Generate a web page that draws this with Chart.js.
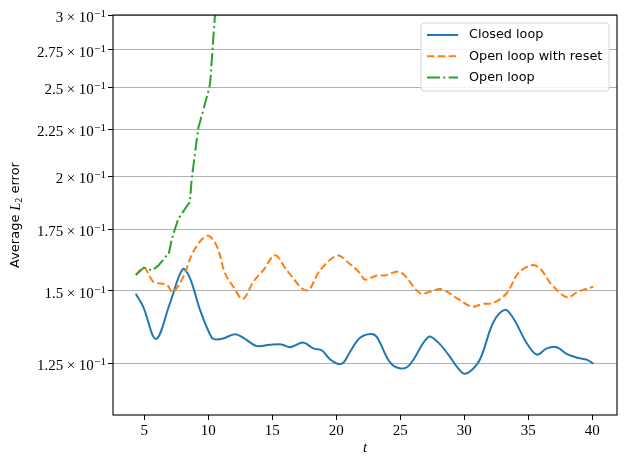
<!DOCTYPE html>
<html>
<head>
<meta charset="utf-8">
<script src="https://cdn.jsdelivr.net/npm/chart.js@4/dist/chart.umd.min.js"></script>
<style>
  html, body { margin: 0; padding: 0; background: #fff; }
  #wrap { width: 627px; height: 467px; position: relative; }
</style>
</head>
<body>
<div id="wrap"><canvas id="errChart"></canvas></div>
<script>
// values
const tClosed = [4.33, 4.92, 5.91, 7.0, 8.0, 8.57, 9.35, 10.27, 10.66, 11.17, 12.09, 12.74, 13.78, 14.82, 15.73, 16.38, 17.42, 18.2, 18.86, 19.5, 20.08, 20.55, 21.07, 21.85, 22.69, 23.16, 24.2, 25.03, 25.76, 27.19, 27.97, 28.75, 29.87, 30.45, 31.23, 32.27, 33.18, 33.83, 34.88, 35.66, 36.44, 37.22, 38.0, 38.9, 39.56, 40.1];
const errClosed = [0.1489, 0.144, 0.1329, 0.1454, 0.1584, 0.1548, 0.143, 0.1333, 0.1327, 0.1331, 0.1345, 0.1333, 0.1306, 0.131, 0.1311, 0.1302, 0.1317, 0.1298, 0.1292, 0.1263, 0.1249, 0.1252, 0.1287, 0.1333, 0.1346, 0.1336, 0.1253, 0.1234, 0.1247, 0.1336, 0.1317, 0.1278, 0.122, 0.1225, 0.1263, 0.1386, 0.143, 0.14, 0.1315, 0.1278, 0.1298, 0.1302, 0.128, 0.1267, 0.1262, 0.1249];

const tReset = [4.33, 4.98, 5.7, 6.75, 7.22, 8.05, 8.83, 9.92, 10.66, 11.3, 11.95, 12.69, 13.52, 14.3, 15.21, 16.13, 17.69, 18.73, 20.08, 20.94, 21.85, 22.24, 23.16, 23.8, 24.98, 26.54, 27.32, 28.23, 29.4, 30.58, 31.48, 32.27, 33.31, 34.22, 35.27, 35.91, 36.83, 38.05, 38.78, 40.08];
const errReset = [0.1561, 0.159, 0.1535, 0.1523, 0.1495, 0.1555, 0.1656, 0.1723, 0.1678, 0.1568, 0.1516, 0.147, 0.1535, 0.158, 0.164, 0.158, 0.1501, 0.158, 0.1639, 0.161, 0.1568, 0.1543, 0.1559, 0.1559, 0.1573, 0.1491, 0.1497, 0.1506, 0.1473, 0.1442, 0.1452, 0.1455, 0.1491, 0.1568, 0.16, 0.1587, 0.1523, 0.1475, 0.1494, 0.1516];

const tOpen = [4.33, 4.98, 5.58, 6.1, 6.75, 6.9, 7.14, 7.66, 8.36, 8.55, 8.7, 9.22, 9.35, 9.82, 10.13, 10.34, 10.52, 10.8];
const errOpen = [0.1561, 0.159, 0.158, 0.1599, 0.1639, 0.1645, 0.1707, 0.1797, 0.1859, 0.1875, 0.1986, 0.226, 0.2294, 0.2424, 0.2522, 0.2771, 0.30, 0.33];

const seriesNames = ['Closed loop', 'Open loop with reset', 'Open loop'];
const xTicks = [5, 10, 15, 20, 25, 30, 35, 40];
const yTicks = [0.125, 0.15, 0.175, 0.2, 0.225, 0.25, 0.275, 0.3];
const yTickMantissa = ['1.25', '1.5', '1.75', '2', '2.25', '2.5', '2.75', '3'];
const yTickExponent = '\u22121';

const serif = "'Liberation Serif', 'DejaVu Serif', serif";
const sans = "'DejaVu Sans', 'Noto Sans', sans-serif";

function toPoints(ts, vs) {
    return ts.map((t, i) => ({ x: t, y: vs[i] }));
}

// full box around the plot, like matplotlib spines
const framePlugin = {
    id: 'frame',
    afterDatasetsDraw(chart) {
        const { ctx, chartArea: a } = chart;
        ctx.save();
        ctx.strokeStyle = '#000';
        ctx.lineWidth = 1.1;
        ctx.strokeRect(a.left, a.top, a.right - a.left, a.bottom - a.top);
        ctx.restore();
    }
};

// y tick labels as "m × 10^-1" and the axis titles with mixed fonts
const axisText = {
    id: 'axisText',
    afterDraw(chart) {
        const { ctx, chartArea: a } = chart;
        const yScale = chart.scales.y;
        ctx.save();
        ctx.fillStyle = '#000';
        ctx.textBaseline = 'middle';
        ctx.textAlign = 'left';
        const rightX = a.left - 7;
        yTicks.forEach((v, i) => {
            const py = yScale.getPixelForValue(v);
            // build right to left: exponent, "10", "×", mantissa
            ctx.font = '11px ' + serif;
            let x = rightX - ctx.measureText(yTickExponent).width;
            ctx.fillText(yTickExponent, x, py - 1);
            ctx.font = '15px ' + serif;
            x -= ctx.measureText('10').width + 0.5;
            ctx.fillText('10', x, py + 3);
            x -= ctx.measureText('\u00d7').width + 3.5;
            ctx.fillText('\u00d7', x, py + 3);
            x -= ctx.measureText(yTickMantissa[i]).width + 3.5;
            ctx.fillText(yTickMantissa[i], x, py + 3);
        });

        // x title
        ctx.font = 'italic 15px ' + serif;
        ctx.textAlign = 'center';
        ctx.fillText('t', (a.left + a.right) / 2, 448);

        // y title, rotated
        const parts = [
            { text: 'Average ', font: '13px ' + sans, dy: 0 },
            { text: 'L', font: 'italic 14px ' + serif, dy: 0 },
            { text: '2', font: '10px ' + serif, dy: 3 },
            { text: ' error', font: '13px ' + sans, dy: 0 }
        ];
        let total = 0;
        parts.forEach(p => { ctx.font = p.font; p.w = ctx.measureText(p.text).width; total += p.w; });
        ctx.translate(16, (a.top + a.bottom) / 2);
        ctx.rotate(-Math.PI / 2);
        ctx.textAlign = 'left';
        let x = -total / 2;
        parts.forEach(p => {
            ctx.font = p.font;
            ctx.fillText(p.text, x, p.dy);
            x += p.w;
        });
        ctx.restore();
    }
};

// legend box in the upper right corner of the axes
const insideLegend = {
    id: 'insideLegend',
    afterDraw(chart) {
        const { ctx, chartArea: a } = chart;
        const boxRight = a.right - 8, boxTop = a.top + 8;
        const boxW = 188, boxH = 68;
        const x0 = boxRight - boxW;
        ctx.save();
        ctx.beginPath();
        ctx.roundRect(x0, boxTop, boxW, boxH, 3);
        ctx.fillStyle = 'rgba(255,255,255,0.85)';
        ctx.fill();
        ctx.strokeStyle = '#d6d6d6';
        ctx.lineWidth = 1;
        ctx.stroke();

        ctx.font = '12.8px ' + sans;
        ctx.textBaseline = 'middle';
        chart.data.datasets.forEach((ds, i) => {
            const y = boxTop + 12 + i * 21.2;
            ctx.beginPath();
            ctx.setLineDash(ds.borderDash || []);
            ctx.strokeStyle = ds.borderColor;
            ctx.lineWidth = ds.borderWidth;
            ctx.moveTo(x0 + 6, y);
            ctx.lineTo(x0 + 37, y);
            ctx.stroke();
            ctx.setLineDash([]);
            ctx.fillStyle = '#000';
            ctx.fillText(ds.label, x0 + 48, y);
        });
        ctx.restore();
    }
};

const ctx = document.getElementById('errChart');
new Chart(ctx, {
    type: 'line',
    data: {
        datasets: [
            {
                label: seriesNames[0],
                data: toPoints(tClosed, errClosed),
                borderColor: '#1f77b4',
                borderWidth: 2,
                tension: 0.35,
                pointRadius: 0,
                order: 2
            },
            {
                label: seriesNames[1],
                data: toPoints(tReset, errReset),
                borderColor: '#ff7f0e',
                borderWidth: 2,
                borderDash: [7.5, 3.3],
                tension: 0.35,
                pointRadius: 0,
                order: 1
            },
            {
                label: seriesNames[2],
                data: toPoints(tOpen, errOpen),
                borderColor: '#2ca02c',
                borderWidth: 2,
                borderDash: [13, 3.3, 2, 3.3],
                tension: 0.1,
                pointRadius: 0,
                order: 0
            }
        ]
    },
    options: {
        responsive: true,
        maintainAspectRatio: false,
        animation: false,
        layout: { padding: { top: 15, right: 10, left: 0, bottom: 0 } },
        plugins: {
            legend: { display: false },
            tooltip: { enabled: false }
        },
        scales: {
            x: {
                type: 'linear',
                min: 2.55,
                max: 41.93,
                afterBuildTicks: scale => { scale.ticks = xTicks.map(v => ({ value: v })); },
                afterFit: scale => { scale.height = 52; },
                border: { display: false },
                grid: {
                    color: 'rgba(0,0,0,0)',
                    tickColor: '#000',
                    tickLength: 5,
                    lineWidth: 1
                },
                ticks: {
                    color: '#000',
                    font: { family: serif, size: 15 },
                    padding: 2,
                    maxRotation: 0
                }
            },
            y: {
                type: 'logarithmic',
                min: 0.1098,
                max: 0.3,
                afterBuildTicks: scale => { scale.ticks = yTicks.map(v => ({ value: v })); },
                afterFit: scale => { scale.width = 113; },
                border: { display: false },
                grid: {
                    color: '#b0b0b0',
                    tickColor: '#000',
                    tickLength: 5,
                    lineWidth: 1
                },
                ticks: { display: false }
            }
        }
    },
    plugins: [framePlugin, axisText, insideLegend]
});
</script>
</body>
</html>
